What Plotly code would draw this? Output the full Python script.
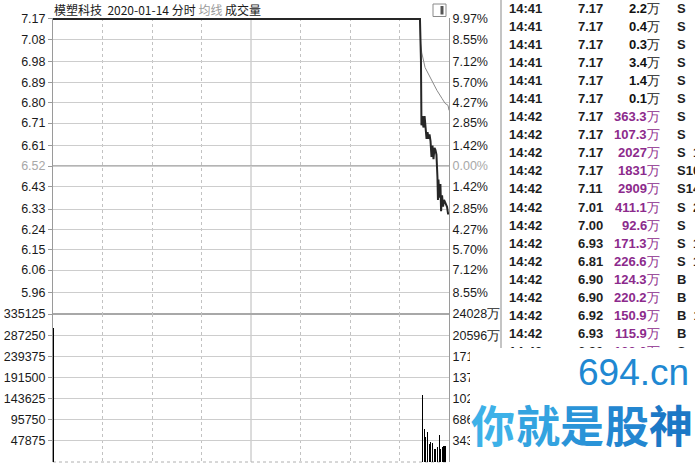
import plotly.graph_objects as go

# ---------------- data ----------------
price_tick_vals = [7.17, 7.08, 6.98, 6.89, 6.80, 6.71, 6.61, 6.52, 6.43, 6.33, 6.24, 6.15, 6.06, 5.96]
price_tick_text = ["7.17", "7.08", "6.98", "6.89", "6.80", "6.71", "6.61", "6.52", "6.43", "6.33", "6.24", "6.15", "6.06", "5.96"]
pct_tick_text = ["9.97%", "8.55%", "7.12%", "5.70%", "4.27%", "2.85%", "1.42%", "0.00%",
                 "1.42%", "2.85%", "4.27%", "5.70%", "7.12%", "8.55%"]
prev_close = 6.52
price_low, price_high = 5.87, 7.17

vol_tick_vals = [47875, 95750, 143625, 191500, 239375, 287250, 335125]
vol_tick_text = ["47875", "95750", "143625", "191500", "239375", "287250", "335125"]
amt_tick_text = ["3433万", "6866万", "10298万", "13731万", "17163万", "20596万", "24028万"]
vol_max = 335125

time_label_text = ["09:30", "10:30", "13:00", "14:00", "15:00"]
time_label_pos = [0, 60, 120, 180, 240]
grid_minutes = [30, 60, 90, 150, 180, 210]

# price line (minute offset from 09:30, trading minutes) and values
price_t = [0, 222.4, 223.0, 223.3, 223.9, 224.5, 225.2, 225.8, 226.4, 227.0, 227.6, 228.2, 228.8,
           229.4, 230.0, 230.6, 231.2, 231.8, 232.4, 233.0, 233.3, 233.6, 234.2, 234.8, 235.2,
           235.8, 236.4, 237.0, 237.6, 238.2, 238.8, 239.4, 240]
price_v = [7.17, 7.17, 6.99, 6.70, 6.74, 6.69, 6.74, 6.69, 6.64, 6.67, 6.64, 6.66, 6.63,
           6.56, 6.61, 6.55, 6.60, 6.59, 6.57, 6.47, 6.37, 6.46, 6.38, 6.44, 6.32,
           6.39, 6.34, 6.37, 6.36, 6.35, 6.34, 6.31, 6.31]
avg_t = [0, 222.4, 222.8, 223.5, 225.5, 228.5, 230.3, 232.7, 235.8, 237.6, 239.4, 240]
avg_v = [7.17, 7.17, 7.06, 7.02, 6.955, 6.91, 6.884, 6.854, 6.818, 6.797, 6.788, 6.766]

vol_t = [0, 224, 225, 226, 227, 228, 229, 230, 231, 232, 233, 234, 235, 236, 237, 238]
vol_v = [303600, 150700, 74200, 56200, 67500, 40500, 45000, 42700, 29200, 29200, 33700,
         60700, 29200, 33700, 36000, 36000]

# tick table (逐笔成交)
tbl_time = ["14:41"] * 6 + ["14:42"] * 14
tbl_price = ["7.17"] * 10 + ["7.11", "7.01", "7.00", "6.93", "6.81", "6.90", "6.90", "6.92", "6.93", "6.90"]
tbl_amount = ["2.2", "0.4", "0.3", "3.4", "1.4", "0.1", "363.3", "107.3", "2027", "1831",
              "2909", "411.1", "92.6", "171.3", "226.6", "124.3", "220.2", "150.9", "115.9", "133.6"]
tbl_side = ["S"] * 15 + ["B"] * 4 + ["S"]
tbl_extra = ["", "", "", "", "", "", "", "", " 1", "10", "14", " 2", "", " 1", " 1", "", "", " 1", "", ""]

title_name = "模塑科技"
title_date = "2020-01-14"
title_rest = "分时"
title_avg = "均线"
title_vol = "成交量"
wm_site = "694.cn"
wm_slogan = ["你", "就", "是", "股", "神"]
wm_colors = ["#3db1e8", "#33a3e0", "#2a94d8", "#2386d0", "#1c78c6"]

# ---------------- layout helpers ----------------
W, H = 695, 468
L, R, T, B = 53, 449, 18, 462
SPLIT = 314


def px(x):
    return (x - L) / (R - L)


def py(y):
    return (B - y) / (B - T)


vol_top = py(SPLIT)
pad = 0.004
FONT = "Liberation Sans, Arial, sans-serif"
CJK = "Noto Sans CJK SC, sans-serif"

left_text = [f'<span style="color:#a8a8a8">{t}</span>' if v == prev_close else t
             for t, v in zip(price_tick_text, price_tick_vals)]
right_text = [f'<span style="color:#a8a8a8">{t}</span>' if v == prev_close else t
              for t, v in zip(pct_tick_text, price_tick_vals)]

fig = go.Figure()
fig.add_trace(go.Scatter(x=avg_t, y=avg_v, mode="lines", line=dict(color="#8a8a8a", width=1),
                         xaxis="x", yaxis="y", hoverinfo="skip", showlegend=False))
fig.add_trace(go.Scatter(x=price_t, y=price_v, mode="lines", line=dict(color="#262626", width=2),
                         xaxis="x", yaxis="y", hoverinfo="skip", showlegend=False))
fig.add_trace(go.Scatter(x=avg_t, y=avg_v, mode="lines", line=dict(color="rgba(0,0,0,0)", width=0),
                         xaxis="x", yaxis="y2", hoverinfo="skip", showlegend=False))
fig.add_trace(go.Bar(x=vol_t, y=vol_v, width=0.7, marker=dict(color="#000000", line=dict(width=0)),
                     xaxis="x2", yaxis="y3", hoverinfo="skip", showlegend=False))
fig.add_trace(go.Scatter(x=vol_t, y=vol_v, mode="lines", line=dict(color="rgba(0,0,0,0)", width=0),
                         xaxis="x2", yaxis="y4", hoverinfo="skip", showlegend=False))

xcommon = dict(range=[0, 240], showticklabels=False, ticks="", tickvals=grid_minutes,
               showgrid=True, gridcolor="#c2c2c2", griddash="dot", gridwidth=1,
               zeroline=False, showline=False, fixedrange=True)
tickfont = dict(family=FONT, size=12.5, color="#1a1a1a")

fig.update_layout(
    width=W, height=H,
    margin=dict(l=L, r=W - R, t=T, b=H - B, pad=0),
    paper_bgcolor="white", plot_bgcolor="white",
    showlegend=False, bargap=0,
    xaxis=dict(domain=[0, 1], anchor="y", **xcommon),
    xaxis2=dict(domain=[0, 1], anchor="y3", matches="x", **xcommon),
    yaxis=dict(domain=[vol_top, 1], anchor="x", range=[price_low - pad, price_high + pad],
               tickvals=price_tick_vals, ticktext=left_text, tickfont=tickfont,
               ticks="outside", ticklen=4, tickcolor="#9a9a9a",
               showgrid=True, gridcolor="#cdcdcd", gridwidth=1, zeroline=False,
               showline=True, linecolor="#9a9a9a", linewidth=1, automargin=False),
    yaxis2=dict(overlaying="y", side="right", anchor="x", range=[price_low - pad, price_high + pad],
                tickvals=price_tick_vals, ticktext=right_text, tickfont=tickfont,
                ticks="", showgrid=False, zeroline=False,
                showline=True, linecolor="#9a9a9a", linewidth=1, automargin=False),
    yaxis3=dict(domain=[0, vol_top], anchor="x2", range=[0, vol_max],
                tickvals=vol_tick_vals, ticktext=vol_tick_text, tickfont=tickfont,
                ticks="outside", ticklen=4, tickcolor="#9a9a9a",
                showgrid=True, gridcolor="#cdcdcd", gridwidth=1, zeroline=False,
                showline=True, linecolor="#9a9a9a", linewidth=1, layer="below traces",
                automargin=False),
    yaxis4=dict(overlaying="y3", side="right", anchor="x2", range=[0, vol_max],
                tickvals=vol_tick_vals, ticktext=amt_tick_text, tickfont=tickfont,
                ticks="", showgrid=False, zeroline=False,
                showline=True, linecolor="#9a9a9a", linewidth=1, automargin=False),
)

shapes = []
# solid midday separator
shapes.append(dict(type="line", xref="x", yref="paper", x0=120, x1=120, y0=0, y1=1,
                   line=dict(color="#b8b8b8", width=1), layer="below"))
# previous close line (thicker)
shapes.append(dict(type="line", xref="paper", yref="y", x0=0, x1=1, y0=prev_close, y1=prev_close,
                   line=dict(color="#b4b4b4", width=2), layer="below"))
# panel separator
shapes.append(dict(type="line", xref="paper", yref="paper", x0=0, x1=1, y0=vol_top, y1=vol_top,
                   line=dict(color="#a8a8a8", width=2), layer="below"))
# bottom dotted border
shapes.append(dict(type="line", xref="paper", yref="paper", x0=0, x1=1, y0=0, y1=0,
                   line=dict(color="#b0b0b0", width=1, dash="dot"), layer="below"))
# table border
shapes.append(dict(type="line", xref="paper", yref="paper", x0=px(501), x1=px(501), y0=py(0), y1=py(348),
                   line=dict(color="#b0b0b0", width=1.5)))
# small window icon
shapes.append(dict(type="rect", xref="paper", yref="paper", x0=px(433), x1=px(446), y0=py(4), y1=py(16.5),
                   line=dict(color="#8a8a8a", width=1), fillcolor="white"))
shapes.append(dict(type="rect", xref="paper", yref="paper", x0=px(440.5), x1=px(443.5), y0=py(6), y1=py(14.5),
                   line=dict(width=0), fillcolor="#555555"))

annotations = []
# header
header = (f"{title_name}\u00a0\u00a0{title_date}\u00a0{title_rest}\u00a0"
          f'<span style="color:#9a9a9a">{title_avg}</span>\u00a0{title_vol}')
annotations.append(dict(text=header, xref="paper", yref="paper", x=px(52), y=py(10),
                        xanchor="left", yanchor="middle", showarrow=False,
                        font=dict(family=CJK, size=12, color="#1a1a1a")))
# bottom time labels (mostly cut by page edge)
for t, pos in zip(time_label_text, time_label_pos):
    annotations.append(dict(text=t, xref="x2", yref="paper", x=pos, y=py(464), xanchor="right",
                            yanchor="top", showarrow=False, font=dict(family=FONT, size=12, color="#333")))

# tick table
ROW0, ROWH = 8, 18.1
bold = dict(family=FONT, size=13, color="#1e1e1e", weight="bold")
for i in range(len(tbl_time)):
    y = py(ROW0 + i * ROWH)
    amt_color = "#8c2a8c" if float(tbl_amount[i]) >= 50 else "#111111"
    annotations.append(dict(text=tbl_time[i], xref="paper", yref="paper", x=px(507), y=y,
                            xanchor="left", yanchor="middle", showarrow=False, font=bold))
    annotations.append(dict(text=tbl_price[i], xref="paper", yref="paper", x=px(605), y=y,
                            xanchor="right", yanchor="middle", showarrow=False, font=bold))
    annotations.append(dict(text=f'{tbl_amount[i]}<span style="font-weight:normal">万</span>',
                            xref="paper", yref="paper", x=px(662), y=y,
                            xanchor="right", yanchor="middle", showarrow=False,
                            font=dict(family=FONT, size=13, color=amt_color, weight="bold")))
    annotations.append(dict(text=tbl_side[i] + tbl_extra[i].replace(" ", "\u00a0\u00a0"),
                            xref="paper", yref="paper", x=px(675), y=y,
                            xanchor="left", yanchor="middle", showarrow=False, font=bold))

# watermark white box
annotations.append(dict(text=" ", xref="paper", yref="paper", x=px(470), y=py(348),
                        xanchor="left", yanchor="top", width=230, height=125, bgcolor="white",
                        borderpad=0, borderwidth=0, showarrow=False))
annotations.append(dict(text=wm_site, xref="paper", yref="paper", x=px(691), y=py(372),
                        xanchor="right", yanchor="middle", showarrow=False,
                        font=dict(family=FONT, size=37, color="#2088d2")))
for k, (ch, col) in enumerate(zip(wm_slogan, wm_colors)):
    annotations.append(dict(text=ch, xref="paper", yref="paper", x=px(493 + k * 44.5), y=py(424),
                            xanchor="center", yanchor="middle", showarrow=False,
                            font=dict(family=CJK, size=44, color=col, weight="bold")))

fig.update_layout(shapes=shapes, annotations=annotations)
fig.write_html("out.html", config={"displayModeBar": False, "staticPlot": True},
               post_script="document.body.style.margin='0';document.body.style.overflow='hidden';")
